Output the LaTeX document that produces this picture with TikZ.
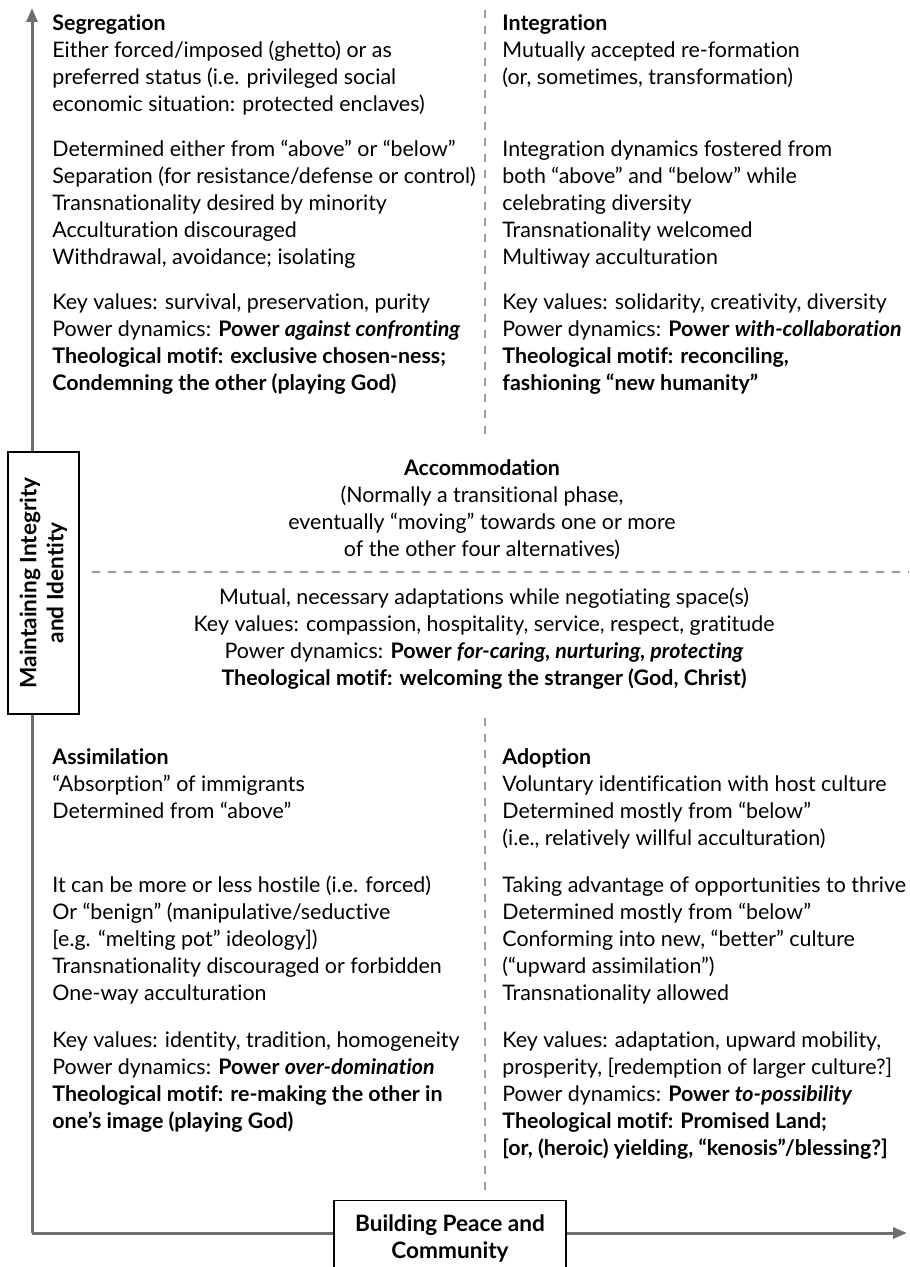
\documentclass[tikz,border=0pt]{standalone}
\usepackage{fontspec}
\setmainfont{Lato}[Ligatures={NoCommon,NoRare}]
\usepackage{tikz}
\usetikzlibrary{arrows.meta,positioning}
\definecolor{axisgray}{HTML}{6D6E71}
\definecolor{dashgray}{HTML}{9C9C9C}

\begin{document}
\begin{tikzpicture}[
    x=0.5pt, y=-0.5pt,
    every node/.style={font=\fontsize{10.7}{13.5}\selectfont, inner sep=0pt},
    quad/.style={anchor=north west, align=left},
    mid/.style={anchor=north, align=center},
    axisline/.style={draw=axisgray, line width=1.5pt},
    axisarr/.style={axisline, -{Triangle[length=7pt, width=5.5pt]}},
    divider/.style={draw=dashgray, line width=0.6pt, dash pattern=on 4pt off 4pt},
    labelbox/.style={draw, fill=white, line width=0.7pt, align=center,
                     font=\fontsize{11.3}{13.5}\selectfont\bfseries}
]
\useasboundingbox (0,0) rectangle (909,1267);

% ── Axes ──────────────────────────────────────────────────────────────────
\coordinate (origin) at (32,1233);
\coordinate (ytip) at (32,8);
\coordinate (xtip) at (907,1233);
\draw[axisarr] (origin) -- (ytip);
\draw[axisarr] (origin) -- (xtip);

% ── Dividers ──────────────────────────────────────────────────────────────
\coordinate (vtop) at (485,10);
\coordinate (vtopend) at (485,440);
\coordinate (vlow) at (485,718);
\coordinate (vlowend) at (485,1192);
\coordinate (hleft) at (92,572);
\coordinate (hright) at (909,572);
\draw[divider] (vtop) -- (vtopend);
\draw[divider] (vlow) -- (vlowend);
\draw[divider] (hleft) -- (hright);

% ── Axis labels ───────────────────────────────────────────────────────────
\node[labelbox, rotate=90, minimum width=131pt, minimum height=35.5pt]
      (ybox) at (43.5,583) {Maintaining Integrity\\and Identity};
\node[labelbox, anchor=north, minimum width=116pt, inner ysep=7pt]
      (xbox) at (450,1200) {Building Peace and\\Community};

% ── Segregation ───────────────────────────────────────────────────────────
\node[quad] (seg) at (52,14) {%
  \textbf{Segregation}\\
  Either forced/imposed (ghetto) or as\\
  preferred status (i.e. privileged social\\
  economic situation: protected enclaves)\\[9pt]
  Determined either from “above” or “below”\\
  Separation (for resistance/defense or control)\\
  Transnationality desired by minority\\
  Acculturation discouraged\\
  Withdrawal, avoidance; isolating\\[9pt]
  Key values: survival, preservation, purity\\
  Power dynamics: \textbf{Power \textit{against confronting}}\\
  \textbf{Theological motif: exclusive chosen-ness;}\\
  \textbf{Condemning the other (playing God)}};

% ── Integration ───────────────────────────────────────────────────────────
\node[quad] (integ) at (502,14) {%
  \textbf{Integration}\\
  Mutually accepted re-formation\\
  (or, sometimes, transformation)\\[22.5pt]
  Integration dynamics fostered from\\
  both “above” and “below” while\\
  celebrating diversity\\
  Transnationality welcomed\\
  Multiway acculturation\\[9pt]
  Key values: solidarity, creativity, diversity\\
  Power dynamics: \textbf{Power \textit{with-collaboration}}\\
  \textbf{Theological motif: reconciling,}\\
  \textbf{fashioning “new humanity”}};

% ── Accommodation ─────────────────────────────────────────────────────────
\node[mid] (accom) at (482,459) {%
  \textbf{Accommodation}\\
  (Normally a transitional phase,\\
  eventually “moving” towards one or more\\
  of the other four alternatives)};
\node[mid] (accomdyn) at (484,587) {%
  Mutual, necessary adaptations while negotiating space(s)\\
  Key values: compassion, hospitality, service, respect, gratitude\\
  Power dynamics: \textbf{Power \textit{for-caring, nurturing, protecting}}\\
  \textbf{Theological motif: welcoming the stranger (God, Christ)}};

% ── Assimilation ──────────────────────────────────────────────────────────
\node[quad] (assim) at (52,748) {%
  \textbf{Assimilation}\\
  “Absorption” of immigrants\\
  Determined from “above”\\[23.5pt]
  It can be more or less hostile (i.e. forced)\\
  Or “benign” (manipulative/seductive\\
  {[}e.g. “melting pot” ideology])\\
  Transnationality discouraged or forbidden\\
  One-way acculturation\\[10pt]
  Key values: identity, tradition, homogeneity\\
  Power dynamics: \textbf{Power \textit{over-domination}}\\
  \textbf{Theological motif: re-making the other in}\\
  \textbf{one’s image (playing God)}};

% ── Adoption ──────────────────────────────────────────────────────────────
\node[quad] (adopt) at (502,748) {%
  \textbf{Adoption}\\
  Voluntary identification with host culture\\
  Determined mostly from “below”\\
  (i.e., relatively willful acculturation)\\[10pt]
  Taking advantage of opportunities to thrive\\
  Determined mostly from “below”\\
  Conforming into new, “better” culture\\
  (“upward assimilation”)\\
  Transnationality allowed\\[10pt]
  Key values: adaptation, upward mobility,\\
  prosperity, {[}redemption of larger culture?]\\
  Power dynamics: \textbf{Power \textit{to-possibility}}\\
  \textbf{Theological motif: Promised Land;}\\
  \textbf{{[}or, (heroic) yielding, “kenosis”/blessing?]}};

\end{tikzpicture}
\end{document}
